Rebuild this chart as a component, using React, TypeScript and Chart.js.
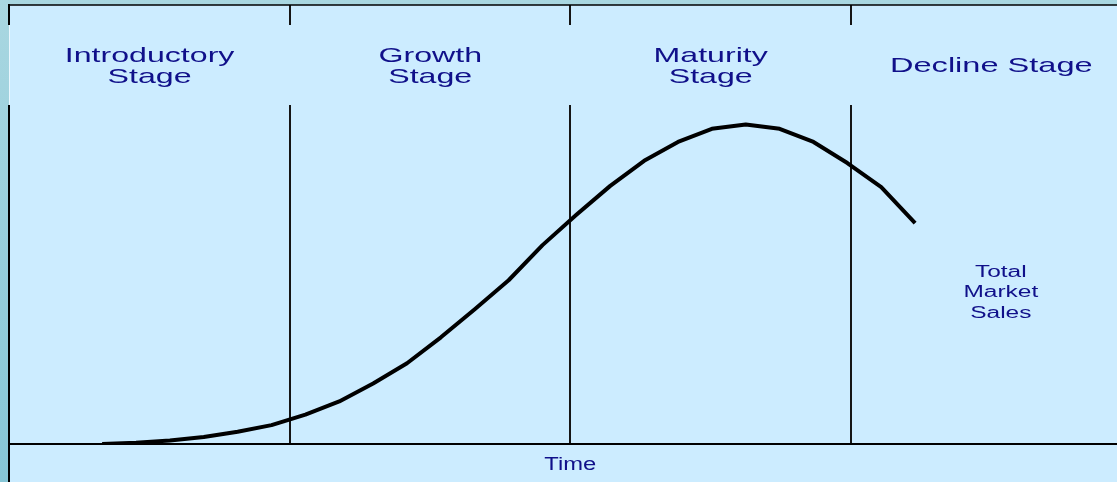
import React, { useEffect, useRef } from "react";
import { Chart, registerables } from "chart.js";

Chart.register(...registerables);

// ---- data ----
const timePeriods = [0, 1, 2, 3, 4, 5, 6, 7, 8, 9, 10, 11, 12, 13, 14, 15, 16, 17, 18, 19, 20, 21, 22, 23, 24];
const totalMarketSales = [0, 0.3, 0.8, 1.6, 2.8, 4.3, 6.7, 9.7, 13.8, 18.4, 24.3, 30.7, 37.3, 45.3, 52.2, 58.8, 64.5, 68.8, 71.8, 72.8, 71.8, 68.8, 64.0, 58.5, 50.3];
const stageNames = [["Introductory", "Stage"], ["Growth", "Stage"], ["Maturity", "Stage"], ["Decline Stage"]];
const stageBoundaries = [-2.75, 5.55, 13.82, 22.11, 30.39];
const timeAxisMin = -2.75;
const timeAxisMax = 29.96;
const salesAxisMin = 0;
const salesAxisMax = 100;
const timeAxisTitle = "Time";
const seriesLabelLines = ["Total", "Market", "Sales"];
const seriesLabelTime = 26.53;
const seriesLabelSales = 38.1;

const TEXT_COLOR = "#10108a";
const FONT = "'Liberation Sans', Arial, sans-serif";

function stretchedText(ctx: CanvasRenderingContext2D, text: string, x: number, y: number, size: number, sx: number) {
  ctx.save();
  ctx.font = `${size}px ${FONT}`;
  ctx.textAlign = "center";
  ctx.textBaseline = "alphabetic";
  ctx.fillStyle = TEXT_COLOR;
  ctx.translate(x, y);
  ctx.scale(sx, 1);
  ctx.fillText(text, 0, 0);
  ctx.restore();
}

const lifeCyclePlugin = {
  id: "lifeCycleDecor",
  beforeDraw(chart: any) {
    const { ctx, chartArea, width, height } = chart;
    const { left, top } = chartArea;
    ctx.save();
    const g = ctx.createLinearGradient(0, 0, 0, height);
    g.addColorStop(0, "#A9D7E1");
    g.addColorStop(1, "#86C6D6");
    ctx.fillStyle = g;
    ctx.fillRect(0, 0, width, height);
    ctx.fillStyle = "#CCECFF";
    ctx.fillRect(left, top, width - left, height - top);
    ctx.restore();
  },
  beforeDatasetsDraw(chart: any) {
    const { ctx, chartArea, height, scales } = chart;
    const { left, top, right, bottom } = chartArea;
    const xs = scales.x;
    ctx.save();
    ctx.lineCap = "butt";
    // stage dividers
    ctx.strokeStyle = "#151515";
    ctx.lineWidth = 2;
    stageBoundaries.slice(1, -1).forEach((b) => {
      const x = Math.round(xs.getPixelForValue(b));
      ctx.beginPath();
      ctx.moveTo(x, top);
      ctx.lineTo(x, top + 20);
      ctx.moveTo(x, top + 100);
      ctx.lineTo(x, bottom);
      ctx.stroke();
    });
    // left border
    ctx.strokeStyle = "#000";
    ctx.lineWidth = 2;
    ctx.beginPath();
    ctx.moveTo(left, top - 1);
    ctx.lineTo(left, top + 20);
    ctx.moveTo(left, top + 100);
    ctx.lineTo(left, height);
    ctx.stroke();
    ctx.strokeStyle = "#EAF7FF";
    ctx.lineWidth = 1;
    ctx.beginPath();
    ctx.moveTo(left + 0.5, top + 20);
    ctx.lineTo(left + 0.5, top + 100);
    ctx.stroke();
    // top border
    ctx.strokeStyle = "#000";
    ctx.lineWidth = 1.5;
    ctx.beginPath();
    ctx.moveTo(left - 1, top);
    ctx.lineTo(right, top);
    ctx.stroke();
    // baseline
    ctx.lineWidth = 1.8;
    ctx.beginPath();
    ctx.moveTo(left, bottom);
    ctx.lineTo(right, bottom);
    ctx.stroke();
    ctx.restore();
  },
  afterDraw(chart: any) {
    const { ctx, chartArea, scales } = chart;
    const { top, bottom } = chartArea;
    const xs = scales.x;
    const ys = scales.y;
    stageNames.forEach((lines, i) => {
      const cx = xs.getPixelForValue((stageBoundaries[i] + stageBoundaries[i + 1]) / 2);
      if (lines.length === 2) {
        stretchedText(ctx, lines[0], cx, top + 57, 21, 1.53);
        stretchedText(ctx, lines[1], cx, top + 78, 21, 1.53);
      } else {
        stretchedText(ctx, lines[0], cx, top + 67, 21, 1.55);
      }
    });
    const tx = xs.getPixelForValue((stageBoundaries[0] + stageBoundaries[stageBoundaries.length - 1]) / 2);
    stretchedText(ctx, timeAxisTitle, tx, bottom + 25.5, 18, 1.32);
    const lx = xs.getPixelForValue(seriesLabelTime);
    const ly = ys.getPixelForValue(seriesLabelSales);
    seriesLabelLines.forEach((t, i) => {
      stretchedText(ctx, t, lx, ly + i * 20.5, 16, 1.53);
    });
  },
};

export default function App() {
  const canvasRef = useRef<HTMLCanvasElement | null>(null);

  useEffect(() => {
    document.body.style.margin = "0";
    const canvas = canvasRef.current;
    if (!canvas) return;
    const chart = new Chart(canvas, {
      type: "line",
      data: {
        datasets: [
          {
            label: "Total Market Sales",
            data: timePeriods.map((t, i) => ({ x: t, y: totalMarketSales[i] })),
            borderColor: "#000000",
            borderWidth: 4,
            pointRadius: 0,
            tension: 0,
            fill: false,
            borderCapStyle: "butt",
            borderJoinStyle: "round",
          } as any,
        ],
      },
      options: {
        animation: false,
        responsive: false,
        devicePixelRatio: 1,
        layout: { padding: { left: 9, top: 5, right: 0, bottom: 38 } },
        plugins: { legend: { display: false }, tooltip: { enabled: false }, title: { display: false } },
        scales: {
          x: { type: "linear", min: timeAxisMin, max: timeAxisMax, display: false },
          y: { type: "linear", min: salesAxisMin, max: salesAxisMax, display: false },
        },
      },
      plugins: [lifeCyclePlugin],
    });
    return () => chart.destroy();
  }, []);

  return (
    <div style={{ position: "absolute", left: 0, top: 0, width: 1117, height: 482 }}>
      <canvas ref={canvasRef} width={1117} height={482} style={{ display: "block", width: 1117, height: 482 }} />
    </div>
  );
}
